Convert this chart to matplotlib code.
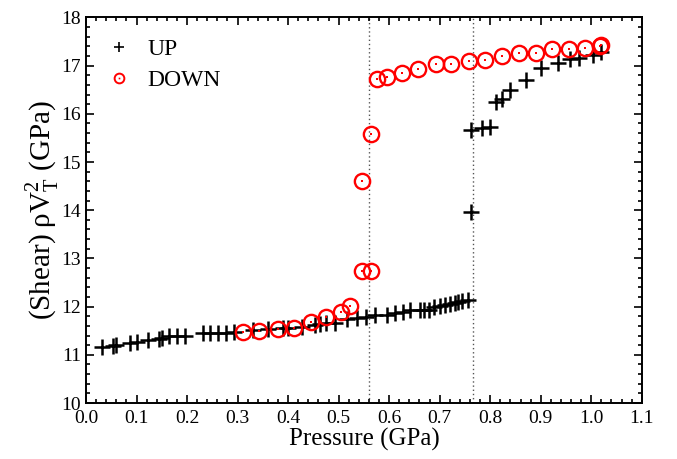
import numpy as np
import matplotlib
matplotlib.use("Agg")
import matplotlib.pyplot as plt
from matplotlib.lines import Line2D
from matplotlib.ticker import MultipleLocator

plt.rcParams["font.family"] = ["Liberation Serif", "DejaVu Serif"]
plt.rcParams["mathtext.fontset"] = "custom"
plt.rcParams["mathtext.rm"] = "Liberation Serif"

# --- data ---
up_p = [0.031, 0.054, 0.059, 0.087, 0.101, 0.123, 0.144, 0.150, 0.165, 0.181,
        0.196, 0.232, 0.245, 0.262, 0.278, 0.293, 0.331, 0.361, 0.390, 0.400,
        0.427, 0.453, 0.463, 0.476, 0.493, 0.516, 0.536, 0.555, 0.572, 0.595,
        0.611, 0.627, 0.642, 0.661, 0.669, 0.679, 0.688, 0.700, 0.710, 0.720,
        0.730, 0.737, 0.745, 0.756,
        0.762, 0.762, 0.783, 0.799, 0.812, 0.824, 0.839, 0.870, 0.901, 0.934,
        0.957, 0.976, 1.004, 1.020]
up_g = [11.17, 11.18, 11.20, 11.25, 11.26, 11.31, 11.32, 11.34, 11.38, 11.39,
        11.40, 11.45, 11.45, 11.46, 11.46, 11.47, 11.51, 11.53, 11.56, 11.56,
        11.58, 11.62, 11.64, 11.65, 11.67, 11.74, 11.76, 11.79, 11.83, 11.83,
        11.86, 11.89, 11.92, 11.92, 11.93, 11.94, 11.99, 12.01, 12.03, 12.05,
        12.07, 12.10, 12.12, 12.14,
        13.96, 15.67, 15.70, 15.73, 16.25, 16.30, 16.50, 16.70, 16.96, 17.06,
        17.13, 17.15, 17.22, 17.29]

down_p = [0.311, 0.343, 0.380, 0.411, 0.445, 0.476, 0.504, 0.522,
          0.546, 0.564, 0.546, 0.564,
          0.575, 0.595, 0.625, 0.657, 0.692, 0.723, 0.758, 0.789,
          0.824, 0.857, 0.890, 0.923, 0.956, 0.987, 1.017, 1.020]
down_g = [11.48, 11.50, 11.54, 11.55, 11.69, 11.79, 11.89, 12.01,
          12.74, 12.74, 14.61, 15.58,
          16.72, 16.76, 16.84, 16.93, 17.03, 17.03, 17.10, 17.11,
          17.21, 17.26, 17.27, 17.34, 17.35, 17.36, 17.41, 17.43]

transitions = [0.56, 0.766]

fig = plt.figure(figsize=(6.77, 4.59), dpi=100)
ax = fig.add_axes([0.127, 0.122, 0.821, 0.840])

for xt in transitions:
    ax.axvline(xt, color="#555555", linestyle=(0, (1, 2)), linewidth=1.0, zorder=1)

ax.plot(up_p, up_g, linestyle="none", marker="+", markersize=12,
        markeredgewidth=1.8, color="black", zorder=3)
ax.plot(down_p, down_g, linestyle="none", marker="o", markersize=11,
        markerfacecolor="none", markeredgewidth=1.7, markeredgecolor="red", zorder=4)
ax.plot(down_p, down_g, linestyle="none", marker="s", markersize=1.5,
        markeredgewidth=0, color="red", zorder=4)

ax.set_xlim(0.0, 1.1)
ax.set_ylim(10, 18)
ax.xaxis.set_major_locator(MultipleLocator(0.1))
ax.xaxis.set_minor_locator(MultipleLocator(0.02))
ax.yaxis.set_major_locator(MultipleLocator(1))
ax.yaxis.set_minor_locator(MultipleLocator(0.2))
ax.xaxis.set_major_formatter(plt.FormatStrFormatter("%.1f"))
ax.tick_params(which="both", direction="in", top=True, right=True,
               labelsize=14, width=1.2)
ax.tick_params(which="major", length=6)
ax.tick_params(which="minor", length=3)
ax.tick_params(axis="x", pad=5)
for s in ax.spines.values():
    s.set_linewidth(1.4)

ax.set_xlabel("Pressure (GPa)", fontsize=18, labelpad=1)
ax.set_ylabel(r"(Shear) ρV$_\mathrm{T}^\mathrm{2}$ (GPa)", fontsize=21)
ax.yaxis.set_label_coords(-0.045, 0.5)

h_up = Line2D([], [], linestyle="none", marker="+", markersize=7,
              markeredgewidth=1.2, color="black")
h_ring = Line2D([], [], linestyle="none", marker="o", markersize=7,
                markerfacecolor="none", markeredgewidth=1.4, markeredgecolor="red")
h_dot = Line2D([], [], linestyle="none", marker="s", markersize=1.2,
               markeredgewidth=0, color="red")
ax.legend([h_up, (h_ring, h_dot)], ["UP", "DOWN"], loc="upper left",
          frameon=False, fontsize=17, handlelength=1.0, handletextpad=0.7,
          labelspacing=0.4, borderaxespad=0.5)

fig.savefig("out.png", dpi=100, facecolor="white")
